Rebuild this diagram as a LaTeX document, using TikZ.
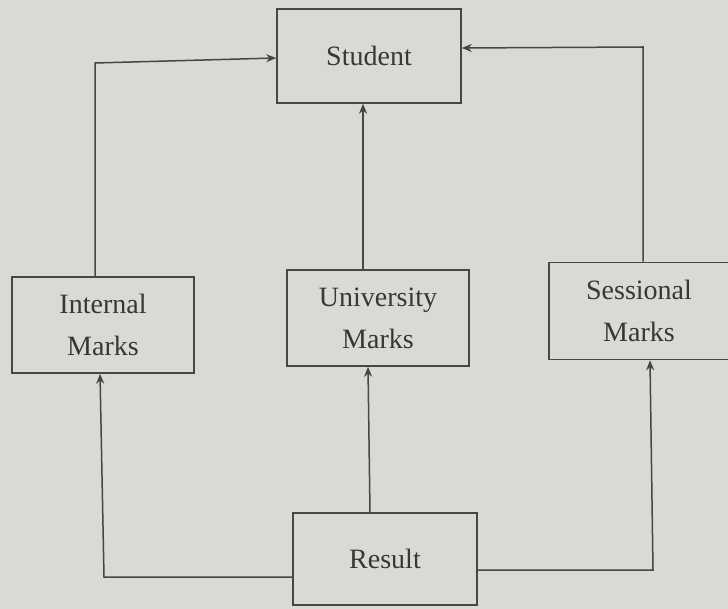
\documentclass[tikz,border=0pt]{standalone}
\usepackage{fontspec}
\setmainfont{Liberation Serif}
\usetikzlibrary{arrows.meta}
\definecolor{bg}{RGB}{216,218,214}
\definecolor{ink}{RGB}{70,70,68}
\definecolor{txt}{RGB}{55,55,52}
\begin{document}
\begin{tikzpicture}[x=1pt,y=-1pt,
  box/.style={draw=ink,line width=1.6pt,minimum width=#1,inner sep=0pt,align=center,text=txt,
    font=\fontsize{28}{42}\selectfont},
  link/.style={draw=ink,line width=1.5pt},
  arr/.style={link,-{Stealth[length=10pt,width=8pt]}}]
\fill[bg] (0,0) rectangle (728,609);
\useasboundingbox (0,0) rectangle (728,609);
\node[box=184pt,minimum height=94pt] (stu) at (369,56) {Student};
\node[box=182pt,minimum height=96pt] (int) at (103,325) {Internal\\Marks};
\node[box=182pt,minimum height=96pt] (uni) at (378,318) {University\\Marks};
\node[box=180pt,minimum height=97pt] (ses) at (639,311) {Sessional\\Marks};
\node[box=184pt,minimum height=92pt] (res) at (385,559) {Result};
\coordinate (c1) at (95,63);
\coordinate (c2) at (643,47);
\coordinate (c3) at (104,577);
\coordinate (c4) at (653,570);
\draw[arr] (int.north -| c1) -- (c1) -- (stu.west |- 0,58);
\draw[arr] (uni.north -| 363,0) -- (stu.south -| 363,0);
\draw[arr] (ses.north -| c2) -- (c2) -- (stu.east |- 0,48);
\draw[arr] (res.west |- c3) -- (c3) -- (int.south -| 100,0);
\draw[arr] (res.north -| 370,0) -- (uni.south -| 368,0);
\draw[arr] (res.east |- c4) -- (c4) -- (ses.south -| 650,0);
\end{tikzpicture}
\end{document}
